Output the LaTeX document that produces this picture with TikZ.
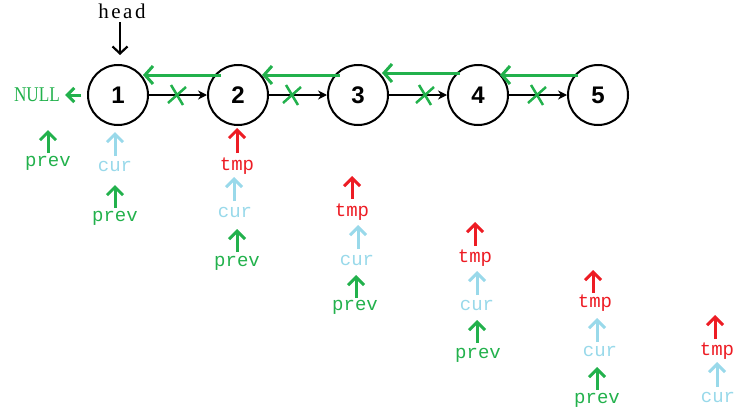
\documentclass[tikz,border=0pt]{standalone}
\usepackage{fontspec}
\setmainfont{Liberation Serif}
\newfontfamily\codefont{Liberation Mono}
\newfontfamily\numfont{Liberation Sans}
\newfontfamily\headfont[LetterSpace=12]{Liberation Serif}
\usetikzlibrary{arrows.meta}
\definecolor{grn}{RGB}{34,177,76}
\definecolor{lblue}{RGB}{153,217,234}
\definecolor{rd}{RGB}{237,28,36}
\tikzset{
  lnode/.style={circle, draw=black, line width=2pt, minimum size=60pt, inner sep=0pt, font=\numfont\bfseries\fontsize{24}{24}\selectfont},
  nxt/.style={draw=black, line width=1.6pt, -{Stealth[length=9pt,width=9pt]}},
  back/.style={draw=grn, line width=3pt, -{Straight Barb[length=8pt,width=18pt,line width=3pt]}},
  ptr/.style={line width=3pt, -{Straight Barb[length=8pt,width=16pt,line width=3pt]}},
  gptr/.style={ptr, draw=grn},
  bptr/.style={ptr, draw=lblue},
  rptr/.style={ptr, draw=rd},
  lbl/.style={inner sep=0pt, font=\codefont\fontsize{19}{19}\selectfont},
  glbl/.style={lbl, text=grn},
  blbl/.style={lbl, text=lblue},
  rlbl/.style={lbl, text=rd},
  cross/.style={draw=grn, line width=2.5pt}
}
\begin{document}
\begin{tikzpicture}[x=1pt,y=-1pt]
\useasboundingbox (0,0) rectangle (743,415);
% list nodes
\node[lnode] (n1) at (118,95) {1};
\node[lnode] (n2) at (238,95) {2};
\node[lnode] (n3) at (358,95) {3};
\node[lnode] (n4) at (478,95) {4};
\node[lnode] (n5) at (598,95) {5};
\draw[nxt] (n1) -- (n2);
\draw[nxt] (n2) -- (n3);
\draw[nxt] (n3) -- (n4);
\draw[nxt] (n4) -- (n5);
% crosses
\foreach \cx in {177,292,425,537}{
  \draw[cross] (\cx-6,85) -- (\cx+6,105);
  \draw[cross] (\cx-9,103) -- (\cx+9,87);
}
% reversed links
\coordinate (b1s) at (221,75); \coordinate (b1e) at (143,75);
\coordinate (b2s) at (340,75); \coordinate (b2e) at (262,75);
\coordinate (b3s) at (460,73); \coordinate (b3e) at (382,73);
\coordinate (b4s) at (578,75); \coordinate (b4e) at (500,75);
\draw[back] (b1s) -- (b1e);
\draw[back] (b2s) -- (b2e);
\draw[back] (b3s) -- (b3e);
\draw[back] (b4s) -- (b4e);
% head
\node[font=\headfont\fontsize{21}{21}\selectfont, inner sep=0pt] (head) at (122,11) {head};
\coordinate (heade) at (120,55);
\draw[draw=black, line width=2.2pt, -{Straight Barb[length=7pt,width=15pt,line width=2.2pt]}] (120,22) -- (heade);
% NULL
\node[text=grn, font=\fontsize{21}{21}\selectfont, inner sep=0pt] (null) at (37,95) {\scalebox{0.82}[1]{NULL}};
\coordinate (nulla) at (81,95);
\draw[draw=grn, line width=3pt, -{Straight Barb[length=7pt,width=14pt,line width=3pt]}] (nulla) -- ([xshift=5pt]null.east);
% column 0
\node[glbl] (p0) at (48,163) {prev};
\draw[gptr] (48,153) -- (48,130);
% column 1
\node[blbl] (c1) at (115,166) {cur};
\draw[bptr] (115,156) -- (115,132);
\node[glbl] (p1) at (115,218) {prev};
\draw[gptr] (115,208) -- (115,185);
% column 2
\node[rlbl] (t2) at (237,166) {tmp};
\draw[rptr] (237,153) -- (237,128);
\node[blbl] (c2) at (235,212) {cur};
\draw[bptr] (234,201) -- (234,177);
\node[glbl] (p2) at (237,263) {prev};
\draw[gptr] (237,252) -- (237,229);
% column 3
\node[rlbl] (t3) at (352,212) {tmp};
\draw[rptr] (352,199) -- (352,176);
\node[blbl] (c3) at (357,260) {cur};
\draw[bptr] (358,249) -- (358,225);
\node[glbl] (p3) at (355,307) {prev};
\draw[gptr] (356,298) -- (356,275);
% column 4
\node[rlbl] (t4) at (475,258) {tmp};
\draw[rptr] (475,246) -- (475,222);
\node[blbl] (c4) at (477,305) {cur};
\draw[bptr] (477,295) -- (477,271);
\node[glbl] (p4) at (478,355) {prev};
\draw[gptr] (477,343) -- (477,320);
% column 5
\node[rlbl] (t5) at (595,303) {tmp};
\draw[rptr] (593,293) -- (593,270);
\node[blbl] (c5) at (600,351) {cur};
\draw[bptr] (597,342) -- (597,318);
\node[glbl] (p5) at (597,400) {prev};
\draw[gptr] (597,390) -- (597,367);
% column 6
\node[rlbl] (t6) at (717,351) {tmp};
\draw[rptr] (715,339) -- (715,315);
\node[blbl] (c6) at (718,397) {cur};
\draw[bptr] (717,387) -- (717,362);
\end{tikzpicture}
\end{document}
